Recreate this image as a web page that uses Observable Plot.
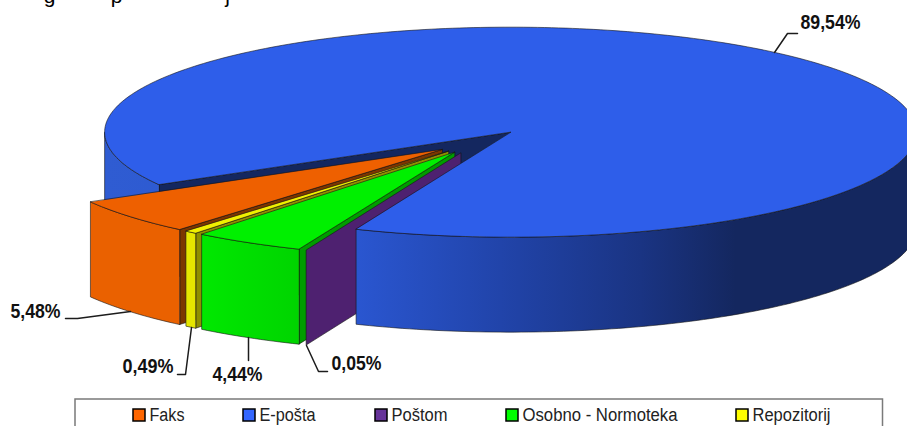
<!DOCTYPE html>
<html>
<head>
<meta charset="utf-8">
<script src="https://cdn.jsdelivr.net/npm/d3@7"></script>
<script src="https://cdn.jsdelivr.net/npm/@observablehq/plot@0.6"></script>
<style>
  html, body { margin: 0; padding: 0; background: #fff; overflow: hidden; }
  svg { display: block; }
</style>
</head>
<body>
<div id="chart"></div>
<script>
// ---- data ----
const categories = ["Faks", "E-pošta", "Poštom", "Osobno - Normoteka", "Repozitorij"];
const shares = [5.48, 89.54, 0.05, 4.44, 0.49];
const legendColors = ["#ff6600", "#3366ff", "#663399", "#00ff00", "#ffff00"];
const topColors = ["#ee6000", "#2e5eea", "#5a2a88", "#00f000", "#f0f000"];
const frontColors = ["#ea6100", "url(#wallBlue)", "#4e2170", "url(#frontGreen)", "#e6e600"];
const sideColors = ["#7c3600", "#14275f", "#4e2170", "#009c00", "#8f8f00"];
const titleGlyphs = ["g", "p", "j"];

// ---- layout of the chart ----
const W = 907, H = 426;
const pie = {cx: 478.5, cy: 141, rx: 406, ry: 105, depth: 95, explode: 48, start: 130.3};
const rad = (d) => d * Math.PI / 180;
const k = pie.ry / pie.rx;

// slices from the shares
let acc = pie.start;
const slices = categories.map((name, i) => {
  const a0 = acc, a1 = acc + shares[i] * 3.6;
  acc = a1;
  const mid = rad((a0 + a1) / 2);
  return {
    name, i, a0, a1,
    cx: pie.cx + pie.explode * Math.cos(mid),
    cy: pie.cy + pie.explode * k * Math.sin(mid)
  };
});
const rim = (s, a, dz = 0) => ({x: s.cx + pie.rx * Math.cos(rad(a)), y: s.cy + pie.ry * Math.sin(rad(a)) + dz});
const arc = (s, a0, a1, dz = 0) => {
  const n = Math.max(1, Math.ceil(Math.abs(a1 - a0)));
  return d3.range(n + 1).map((j) => rim(s, a0 + (a1 - a0) * j / n, dz));
};
const outline = {stroke: "#141414", strokeWidth: 0.7, strokeOpacity: 0.85, strokeLinejoin: "round"};
const poly = (pts, fill) => Plot.line(pts, {x: "x", y: "y", curve: "linear-closed", fill, ...outline});
const topFace = (s) => poly([{x: s.cx, y: s.cy}, ...arc(s, s.a0, s.a1)], topColors[s.i]);
const outerWall = (s, a0 = s.a0, a1 = s.a1) =>
  poly([...arc(s, a0, a1), ...arc(s, a1, a0, pie.depth)], frontColors[s.i]);
const radialWall = (s, a, fill) => poly([
  {x: s.cx, y: s.cy}, rim(s, a), rim(s, a, pie.depth), {x: s.cx, y: s.cy + pie.depth}
], fill);
const sliceMarks = (s) => [radialWall(s, s.a0, sideColors[s.i]), outerWall(s), topFace(s)];

const [faks, eposta, postom, osobno, repo] = slices;

// ---- leaders and labels ----
const fmt = (v) => v.toFixed(2).replace(".", ",") + "%";
const leaders = [
  [{x: 130, y: 311}, {x: 77, y: 318}, {x: 65, y: 318}],
  [{x: 774, y: 52}, {x: 787, y: 33}, {x: 797, y: 33}],
  [{x: 306, y: 345}, {x: 318, y: 371}, {x: 327, y: 371}],
  [{x: 248, y: 337}, {x: 248, y: 360}],
  [{x: 191, y: 327}, {x: 185, y: 374}, {x: 177, y: 374}]
];
const labelPos = [
  {x: 35, y: 311, w: 50}, {x: 830, y: 22, w: 60}, {x: 356, y: 363, w: 50}, {x: 237, y: 374, w: 50}, {x: 147.5, y: 366, w: 51}
];
const labels = shares.map((v, i) => ({text: fmt(v), ...labelPos[i]}));

// ---- legend ----
const swatchX = [133, 243, 375, 506, 736];
const legendWidths = [35, 56, 56, 155, 78];
const legend = categories.map((name, i) => ({name, x: swatchX[i], w: legendWidths[i]}));

const defs = () => {
  const d = d3.create("svg:defs");
  const grad = (id, stops) => {
    const g = d.append("linearGradient").attr("id", id).attr("gradientUnits", "userSpaceOnUse")
      .attr("x1", stops[0][0]).attr("x2", stops[stops.length - 1][0]).attr("y1", 0).attr("y2", 0);
    const span = stops[stops.length - 1][0] - stops[0][0];
    stops.forEach(([x, c]) => g.append("stop").attr("offset", (x - stops[0][0]) / span).attr("stop-color", c));
  };
  grad("wallBlue", [[104, "#2f5cd2"], [357, "#2a56d0"], [500, "#2144aa"], [640, "#1a3483"], [735, "#14275f"], [907, "#14275f"]]);
  grad("frontGreen", [[202, "#00e800"], [300, "#00d400"]]);
  return d.node();
};

const fitText = (selector, rows) => {
  plot.querySelectorAll(selector + " text").forEach((t, i) => {
    t.setAttribute("textLength", rows[i].w);
    t.setAttribute("lengthAdjust", "spacingAndGlyphs");
  });
};

const plot = Plot.plot({
  width: W, height: H,
  margin: 0,
  style: {background: "#fff"},
  x: {domain: [0, W], range: [0, W], axis: null},
  y: {domain: [0, H], range: [0, H], axis: null},
  color: {domain: categories, range: legendColors},
  marks: [
    defs,
    // clipped title line at the very top
    Plot.text(titleGlyphs, {
      x: (d, i) => [49, 116, 227][i], y: () => 0, text: (d) => d,
      fontFamily: "Liberation Sans", fontSize: 21, fill: "#000", lineAnchor: "bottom", dy: 2
    }),
    // far cut wall of the big slice, then its left rim
    radialWall(eposta, eposta.a0, sideColors[1]),
    outerWall(eposta, eposta.a0, 180),
    // the exploded small slices, left to right
    ...sliceMarks(faks),
    ...sliceMarks(repo),
    ...sliceMarks(osobno),
    radialWall(postom, postom.a0, sideColors[2]),
    // front rim and top of the big slice
    outerWall(eposta, 360, eposta.a1),
    topFace(eposta),
    // leader lines and value labels
    ...leaders.map((l) => Plot.line(l, {x: "x", y: "y", stroke: "#1c1c1c", strokeWidth: 1.5})),
    Plot.text(labels, {
      x: "x", y: "y", text: "text", fill: "#111", className: "vlabel",
      fontFamily: "Liberation Sans", fontWeight: "bold", fontSize: 21
    }),
    // legend box, clipped at the bottom of the picture
    Plot.rect([{x1: 75, x2: 882.5, y1: 399, y2: 440}], {
      x1: "x1", x2: "x2", y1: "y1", y2: "y2", fill: "#fff", stroke: "#7a7a7a", strokeWidth: 1.5
    }),
    Plot.rect(legend, {
      x1: "x", x2: (d) => d.x + 12, y1: () => 409, y2: () => 421,
      fill: "name", stroke: "#000", strokeWidth: 1.5
    }),
    Plot.text(legend, {
      x: (d) => d.x + 16, y: () => 415, text: "name", textAnchor: "start", className: "ltext",
      fontFamily: "Liberation Sans", fontSize: 18, fill: "#222"
    })
  ]
});
fitText(".vlabel", labels);
fitText(".ltext", legend);
document.getElementById("chart").append(plot);
</script>
</body>
</html>
